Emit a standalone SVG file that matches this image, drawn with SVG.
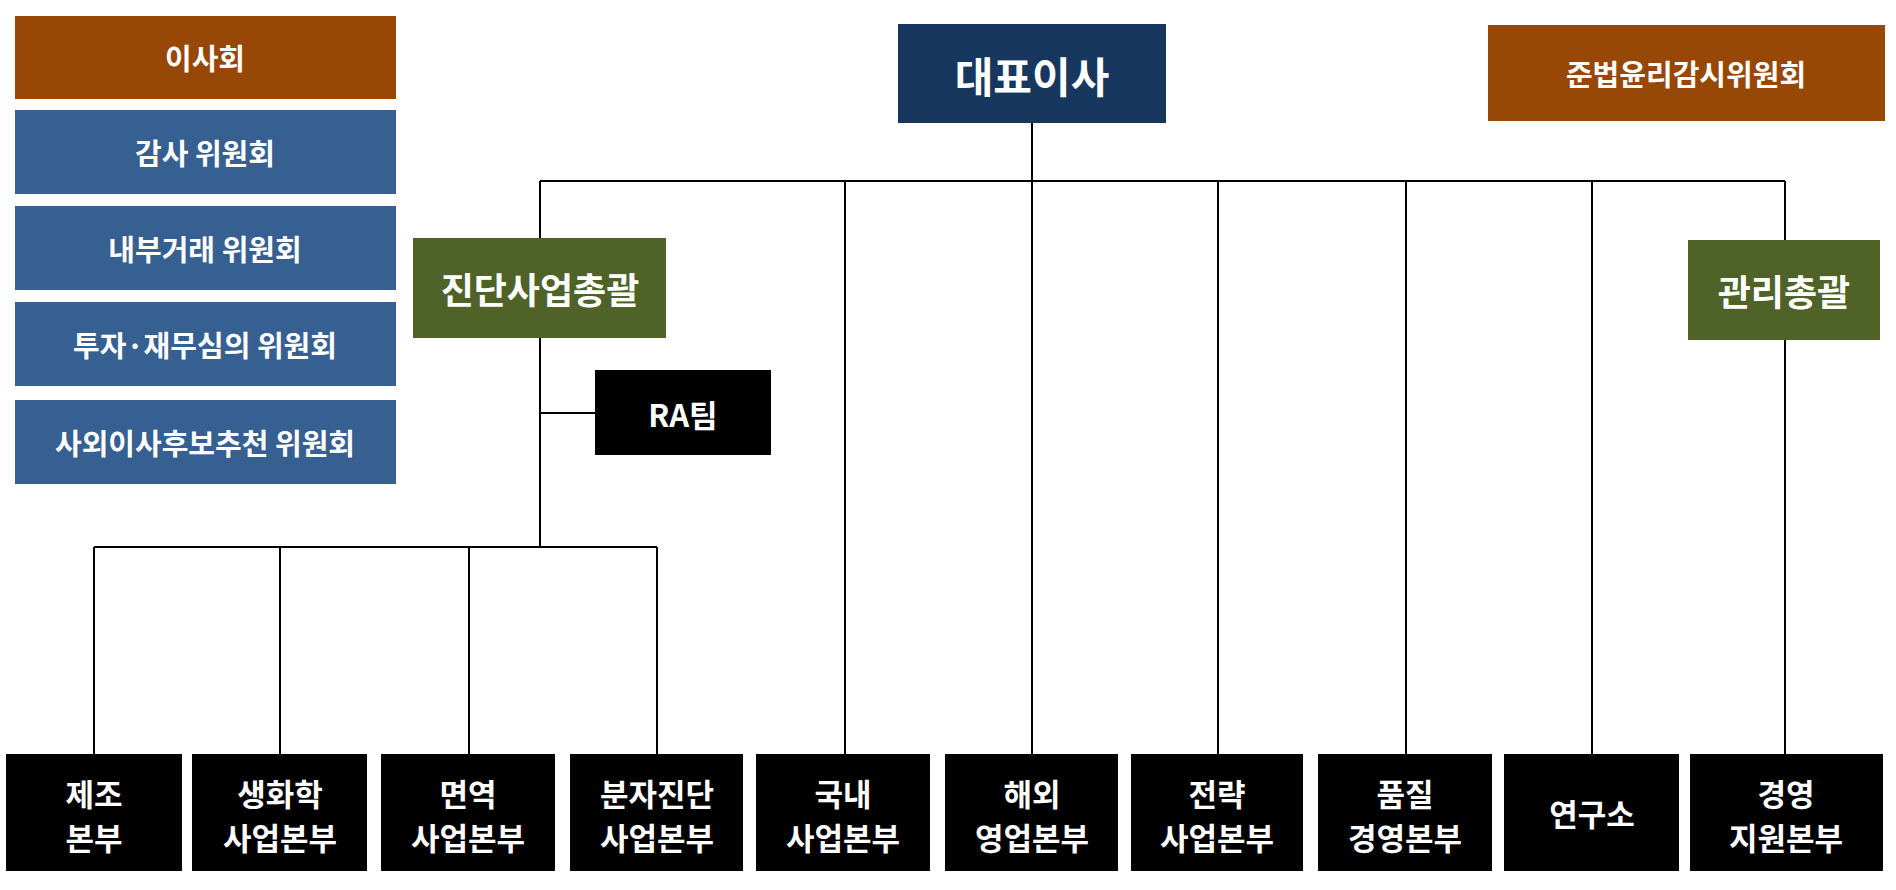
<svg xmlns="http://www.w3.org/2000/svg" width="1896" height="890" viewBox="0 0 1896 890">
<style>
text{font-family:"Noto Sans CJK KR","Noto Sans",sans-serif;font-weight:bold;fill:#fff;text-anchor:middle;dominant-baseline:central}
.s{font-size:29px}.b{font-size:31px}.l{font-size:42px}.m{font-size:36px}
.br{fill:#974706}.bl{fill:#376092}.nv{fill:#17375E}.gr{fill:#4F6228}.k{fill:#000}
line{stroke:#000;stroke-width:2}
</style>
<rect width="1896" height="890" fill="#fff"/>
<g id="connectors">
<line x1="1032" y1="123" x2="1032" y2="181"/>
<line x1="540" y1="181" x2="1785" y2="181"/>
<line x1="540" y1="181" x2="540" y2="238"/>
<line x1="540" y1="338" x2="540" y2="547"/>
<line x1="540" y1="413" x2="595" y2="413"/>
<line x1="94" y1="547" x2="657" y2="547"/>
<line x1="94" y1="547" x2="94" y2="754"/>
<line x1="280" y1="547" x2="280" y2="754"/>
<line x1="469" y1="547" x2="469" y2="754"/>
<line x1="657" y1="547" x2="657" y2="754"/>
<line x1="845" y1="181" x2="845" y2="754"/>
<line x1="1032" y1="181" x2="1032" y2="754"/>
<line x1="1218" y1="181" x2="1218" y2="754"/>
<line x1="1406" y1="181" x2="1406" y2="754"/>
<line x1="1592" y1="181" x2="1592" y2="754"/>
<line x1="1785" y1="181" x2="1785" y2="240"/>
<line x1="1785" y1="340" x2="1785" y2="754"/>
</g>
<g id="n1"><rect class="br" x="15" y="16" width="381" height="83"/><text class="s" x="205" y="57">이사회</text></g>
<g id="n2"><rect class="bl" x="15" y="110" width="381" height="84"/><text class="s" x="205" y="152">감사 위원회</text></g>
<g id="n3"><rect class="bl" x="15" y="206" width="381" height="84"/><text class="s" x="205" y="248">내부거래 위원회</text></g>
<g id="n4"><rect class="bl" x="15" y="302" width="381" height="84"/><text class="s" x="205" y="344">투자·재무심의 위원회</text></g>
<g id="n5"><rect class="bl" x="15" y="400" width="381" height="84"/><text class="s" x="205" y="442">사외이사후보추천 위원회</text></g>
<g id="ceo"><rect class="nv" x="898" y="24" width="268" height="99"/><text class="l" x="1032" y="74">대표이사</text></g>
<g id="comp"><rect class="br" x="1488" y="25" width="397" height="96"/><text class="s" x="1686" y="73">준법윤리감시위원회</text></g>
<g id="diag"><rect class="gr" x="413" y="238" width="253" height="100"/><text class="m" x="540" y="288">진단사업총괄</text></g>
<g id="mgmt"><rect class="gr" x="1688" y="240" width="192" height="100"/><text class="m" x="1784" y="290">관리총괄</text></g>
<g id="ra"><rect class="k" x="595" y="370" width="176" height="85"/><text class="b" x="683" y="413">RA팀</text></g>
<g id="b1"><rect class="k" x="6" y="754" width="176" height="117"/><text class="b" x="94" y="792">제조</text><text class="b" x="94" y="836">본부</text></g>
<g id="b2"><rect class="k" x="192" y="754" width="175" height="117"/><text class="b" x="280" y="792">생화학</text><text class="b" x="280" y="836">사업본부</text></g>
<g id="b3"><rect class="k" x="381" y="754" width="174" height="117"/><text class="b" x="468" y="792">면역</text><text class="b" x="468" y="836">사업본부</text></g>
<g id="b4"><rect class="k" x="570" y="754" width="173" height="117"/><text class="b" x="657" y="792">분자진단</text><text class="b" x="657" y="836">사업본부</text></g>
<g id="b5"><rect class="k" x="756" y="754" width="174" height="117"/><text class="b" x="843" y="792">국내</text><text class="b" x="843" y="836">사업본부</text></g>
<g id="b6"><rect class="k" x="945" y="754" width="173" height="117"/><text class="b" x="1032" y="792">해외</text><text class="b" x="1032" y="836">영업본부</text></g>
<g id="b7"><rect class="k" x="1131" y="754" width="172" height="117"/><text class="b" x="1217" y="792">전략</text><text class="b" x="1217" y="836">사업본부</text></g>
<g id="b8"><rect class="k" x="1318" y="754" width="174" height="117"/><text class="b" x="1405" y="792">품질</text><text class="b" x="1405" y="836">경영본부</text></g>
<g id="b9"><rect class="k" x="1504" y="754" width="175" height="117"/><text class="b" x="1592" y="812">연구소</text></g>
<g id="b10"><rect class="k" x="1690" y="754" width="193" height="117"/><text class="b" x="1786" y="792">경영</text><text class="b" x="1786" y="836">지원본부</text></g>
</svg>
